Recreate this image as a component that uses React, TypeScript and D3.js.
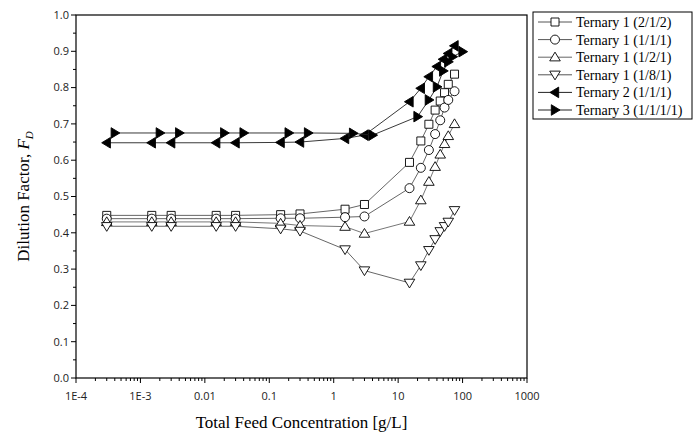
import React from 'react';
import * as d3 from 'd3';

// feed concentrations [g/L]
const X_T1 = [3e-4, 1.5e-3, 3e-3, 0.015, 0.03, 0.15, 0.3, 1.5, 3, 15, 22.5, 30, 37.5, 45, 52.5, 60, 75];
const X_T2 = [3e-4, 1.5e-3, 3e-3, 0.015, 0.03, 0.15, 0.3, 1.5, 3, 15, 22.5, 30, 40, 50, 60, 75];
const X_T3 = [4e-4, 2e-3, 4e-3, 0.02, 0.04, 0.2, 0.4, 2, 4, 20, 30, 40, 50, 60, 70, 100];

// dilution factors
const Y_212 = [0.448, 0.448, 0.448, 0.448, 0.448, 0.45, 0.452, 0.465, 0.478, 0.594, 0.653, 0.699, 0.738, 0.763, 0.786, 0.809, 0.837];
const Y_111 = [0.439, 0.439, 0.439, 0.439, 0.439, 0.44, 0.44, 0.443, 0.445, 0.523, 0.579, 0.628, 0.672, 0.71, 0.745, 0.766, 0.79];
const Y_121 = [0.43, 0.43, 0.43, 0.43, 0.43, 0.426, 0.42, 0.417, 0.398, 0.431, 0.49, 0.541, 0.582, 0.616, 0.645, 0.667, 0.70];
const Y_181 = [0.418, 0.418, 0.418, 0.418, 0.418, 0.411, 0.405, 0.354, 0.296, 0.262, 0.31, 0.352, 0.382, 0.404, 0.418, 0.43, 0.462];
const Y_T2 = [0.648, 0.648, 0.648, 0.648, 0.648, 0.649, 0.65, 0.66, 0.669, 0.761, 0.798, 0.83, 0.858, 0.878, 0.894, 0.915];
const Y_T3 = [0.675, 0.675, 0.675, 0.675, 0.675, 0.675, 0.675, 0.674, 0.669, 0.72, 0.766, 0.802, 0.846, 0.871, 0.885, 0.899];

const SERIES = [
  { name: 'Ternary 1 (2/1/2)', xs: X_T1, ys: Y_212, marker: 'square', fill: '#fff', line: '#555' },
  { name: 'Ternary 1 (1/1/1)', xs: X_T1, ys: Y_111, marker: 'circle', fill: '#fff', line: '#555' },
  { name: 'Ternary 1 (1/2/1)', xs: X_T1, ys: Y_121, marker: 'up', fill: '#fff', line: '#666' },
  { name: 'Ternary 1 (1/8/1)', xs: X_T1, ys: Y_181, marker: 'down', fill: '#fff', line: '#555' },
  { name: 'Ternary 2 (1/1/1)', xs: X_T2, ys: Y_T2, marker: 'left', fill: '#000', line: '#222' },
  { name: 'Ternary 3 (1/1/1/1)', xs: X_T3, ys: Y_T3, marker: 'right', fill: '#000', line: '#222' },
];

const X_TICKS = [1e-4, 1e-3, 1e-2, 1e-1, 1, 10, 100, 1000];
const X_LABELS = ['1E-4', '1E-3', '0.01', '0.1', '1', '10', '100', '1000'];
const Y_TICKS = [0, 0.1, 0.2, 0.3, 0.4, 0.5, 0.6, 0.7, 0.8, 0.9, 1.0];

const W = 697;
const H = 437;
const left = 76;
const top = 15;
const right = 527;
const bottom = 378;

function markerPath(kind: string, r: number) {
  switch (kind) {
    case 'square':
      return `M${-r},${-r}H${r}V${r}H${-r}Z`;
    case 'up':
      return `M0,${-r * 1.1}L${r * 1.15},${r * 0.8}L${-r * 1.15},${r * 0.8}Z`;
    case 'down':
      return `M0,${r * 1.1}L${r * 1.15},${-r * 0.8}L${-r * 1.15},${-r * 0.8}Z`;
    case 'left':
      return `M${-r * 1.1},0L${r * 0.8},${-r * 1.15}L${r * 0.8},${r * 1.15}Z`;
    case 'right':
      return `M${r * 1.1},0L${-r * 0.8},${-r * 1.15}L${-r * 0.8},${r * 1.15}Z`;
    default:
      return '';
  }
}

function Marker({ kind, x, y, fill }: { kind: string; x: number; y: number; fill: string }) {
  if (kind === 'circle') {
    return <circle cx={x} cy={y} r={4.5} fill={fill} stroke="#000" strokeWidth={0.9} />;
  }
  const r = kind === 'square' ? 4 : 4.6;
  return (
    <path d={markerPath(kind, r)} transform={`translate(${x},${y})`} fill={fill} stroke="#000" strokeWidth={0.9} />
  );
}

export default function App() {
  const x = d3.scaleLog().domain([1e-4, 1000]).range([left, right]);
  const y = d3.scaleLinear().domain([0, 1]).range([bottom, top]);

  const minorX: number[] = [];
  for (let e = -4; e < 3; e++) {
    for (let k = 2; k <= 9; k++) minorX.push(k * Math.pow(10, e));
  }
  const minorY = d3.range(0.05, 1, 0.1);

  const line = d3.line<[number, number]>().x(d => x(d[0])).y(d => y(d[1]));

  return (
    <svg width={W} height={H} style={{ display: 'block', position: 'absolute', left: 0, top: 0 }}>
      <rect width={W} height={H} fill="#fff" />
      {/* frame */}
      <rect x={left} y={top} width={right - left} height={bottom - top} fill="none" stroke="#000" strokeWidth={1.2} />

      {/* y axis */}
      {Y_TICKS.map(t => (
        <g key={'y' + t}>
          <line x1={left - 5} x2={left} y1={y(t)} y2={y(t)} stroke="#000" strokeWidth={1} />
          <text x={left - 7} y={y(t)} dy="0.35em" textAnchor="end" fontFamily="'Open Sans', sans-serif" fontSize={11} fill="#222">
            {t.toFixed(1)}
          </text>
        </g>
      ))}
      {minorY.map(t => (
        <line key={'my' + t} x1={left - 3} x2={left} y1={y(t)} y2={y(t)} stroke="#000" strokeWidth={1} />
      ))}

      {/* x axis */}
      {X_TICKS.map((t, i) => (
        <g key={'x' + t}>
          <line x1={x(t)} x2={x(t)} y1={bottom} y2={bottom + 5} stroke="#000" strokeWidth={1} />
          <text x={x(t)} y={bottom + 18} dy="0.35em" textAnchor="middle" fontFamily="'Open Sans', sans-serif" fontSize={11} fill="#222">
            {X_LABELS[i]}
          </text>
        </g>
      ))}
      {minorX.map(t => (
        <line key={'mx' + t} x1={x(t)} x2={x(t)} y1={bottom} y2={bottom + 3} stroke="#000" strokeWidth={1} />
      ))}

      {/* axis titles */}
      <text x={(left + right) / 2} y={428} textAnchor="middle" fontFamily="'Liberation Serif', serif" fontSize={17}>
        Total Feed Concentration [g/L]
      </text>
      <text transform={`translate(29,${(top + bottom) / 2}) rotate(-90)`} textAnchor="middle" fontFamily="'Liberation Serif', serif" fontSize={17}>
        Dilution Factor, <tspan fontStyle="italic">F</tspan>
        <tspan fontStyle="italic" fontSize={11} dy={4}>D</tspan>
      </text>

      {/* series */}
      {SERIES.map(s => {
        const pts = s.xs.map((v, i) => [v, s.ys[i]] as [number, number]);
        return (
          <g key={s.name}>
            <path d={line(pts) || ''} fill="none" stroke={s.line} strokeWidth={0.9} />
            {pts.map((p, i) => (
              <Marker key={i} kind={s.marker} x={x(p[0])} y={y(p[1])} fill={s.fill} />
            ))}
          </g>
        );
      })}

      {/* legend */}
      <g>
        <rect x={533} y={12} width={159} height={107} fill="#fff" stroke="#000" strokeWidth={1} />
        {SERIES.map((s, i) => {
          const ly = 22 + i * 17.6;
          return (
            <g key={'lg' + i}>
              <line x1={538} x2={572} y1={ly} y2={ly} stroke={s.line} strokeWidth={1} />
              <Marker kind={s.marker} x={555} y={ly} fill={s.fill} />
              <text x={576} y={ly} dy="0.35em" fontFamily="'Liberation Serif', serif" fontSize={14}>
                {s.name}
              </text>
            </g>
          );
        })}
      </g>
    </svg>
  );
}
